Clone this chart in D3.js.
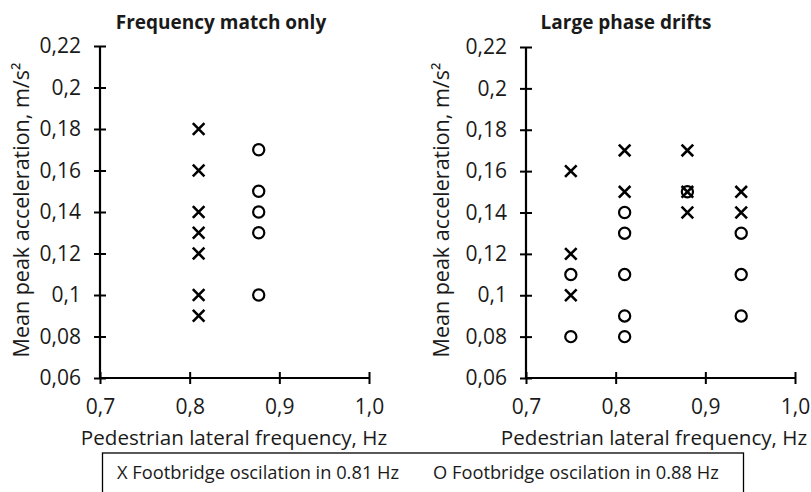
<!DOCTYPE html>
<html>
<head>
<meta charset="utf-8">
<script src="https://cdn.jsdelivr.net/npm/d3@7"></script>
<style>
  body { margin: 0; background: #fff; }
  svg text { font-family: "Open Sans", "Noto Sans", sans-serif; fill: #1a1a1a; }
</style>
</head>
<body>
<svg id="chart" width="811" height="492"></svg>
<script>
// ---- data ----
const panelTitles = ["Frequency match only", "Large phase drifts"];
const xTicks = [0.7, 0.8, 0.9, 1.0];
const yTicks = [0.06, 0.08, 0.10, 0.12, 0.14, 0.16, 0.18, 0.20, 0.22];
const xLabel = "Pedestrian lateral frequency, Hz";
const yLabel = "Mean peak acceleration, m/s²";
const legendLabels = ["X Footbridge oscilation in 0.81 Hz", "O Footbridge oscilation in 0.88 Hz"];

// Panel 1: Frequency match only
const p1CrossX = [0.81, 0.81, 0.81, 0.81, 0.81, 0.81, 0.81];
const p1CrossY = [0.18, 0.16, 0.14, 0.13, 0.12, 0.10, 0.09];
const p1CircleX = [0.877, 0.877, 0.877, 0.877, 0.877];
const p1CircleY = [0.17, 0.15, 0.14, 0.13, 0.10];

// Panel 2: Large phase drifts
const p2CrossX = [0.75, 0.75, 0.75, 0.81, 0.81, 0.88, 0.88, 0.88, 0.94, 0.94];
const p2CrossY = [0.16, 0.12, 0.10, 0.17, 0.15, 0.17, 0.15, 0.14, 0.15, 0.14];
const p2CircleX = [0.75, 0.75, 0.81, 0.81, 0.81, 0.81, 0.81, 0.88, 0.94, 0.94, 0.94];
const p2CircleY = [0.11, 0.08, 0.14, 0.13, 0.11, 0.09, 0.08, 0.15, 0.13, 0.11, 0.09];

const panels = [
  { title: panelTitles[0], cx: p1CrossX, cy: p1CrossY, ox: p1CircleX, oy: p1CircleY,
    left: 100, right: 369, top: 46, bottom: 378, titleX: 221, xTitleX: 234, yTitleX: 29 },
  { title: panelTitles[1], cx: p2CrossX, cy: p2CrossY, ox: p2CircleX, oy: p2CircleY,
    left: 526, right: 795, top: 47, bottom: 378, titleX: 626, xTitleX: 654, yTitleX: 449 }
];

const svg = d3.select("#chart");
const fmtX = d => d3.format(".1f")(d).replace(".", ",");
const fmtY = d => {
  let s = d3.format(".2f")(d);
  s = s.replace(/0$/, "");
  return s.replace(".", ",");
};

panels.forEach(p => {
  const x = d3.scaleLinear().domain([0.7, 1.0]).range([p.left, p.right]);
  const y = d3.scaleLinear().domain([0.06, 0.22]).range([p.bottom, p.top]);
  const g = svg.append("g");

  // y axis
  const yAxis = g.append("g").attr("transform", `translate(${p.left},0)`)
    .call(d3.axisLeft(y).tickValues(yTicks).tickFormat(fmtY).tickSize(6).tickPadding(13));
  yAxis.select(".domain").attr("d", `M0,${p.top}V${p.bottom}`).attr("stroke", "#000").attr("stroke-width", 2.2);
  yAxis.selectAll(".tick line").attr("x1", 6).attr("x2", -6).attr("stroke", "#000").attr("stroke-width", 2);
  yAxis.selectAll(".tick text").style("font-size", "21px").attr("fill", "#1a1a1a")
    .style("font-family", "'Open Sans', sans-serif");

  // x axis
  const xAxis = g.append("g").attr("transform", `translate(0,${p.bottom})`)
    .call(d3.axisBottom(x).tickValues(xTicks).tickFormat(fmtX).tickSize(6).tickPadding(15));
  xAxis.select(".domain").attr("d", `M${p.left},0H${p.right}`).attr("stroke", "#000").attr("stroke-width", 2.2);
  xAxis.selectAll(".tick line").attr("y1", -6).attr("y2", 6).attr("stroke", "#000").attr("stroke-width", 2);
  xAxis.selectAll(".tick text").style("font-size", "21px").attr("fill", "#1a1a1a")
    .style("font-family", "'Open Sans', sans-serif");

  // titles
  g.append("text").attr("x", p.titleX).attr("y", 29).attr("text-anchor", "middle")
    .style("font-size", "19px").style("font-weight", "bold").text(p.title);
  g.append("text").attr("x", p.xTitleX)
    .attr("y", 445).attr("text-anchor", "middle").style("font-size", "20.6px").text(xLabel);
  g.append("text").attr("transform", `translate(${p.yTitleX},210) rotate(-90)`)
    .attr("text-anchor", "middle").style("font-size", "21.5px").text(yLabel);

  // markers
  const crosses = d3.zip(p.cx, p.cy);
  const circles = d3.zip(p.ox, p.oy);
  const s = 5.8;
  g.selectAll("path.cross").data(crosses).enter().append("path")
    .attr("class", "cross")
    .attr("d", d => `M${x(d[0]) - s},${y(d[1]) - s}L${x(d[0]) + s},${y(d[1]) + s}M${x(d[0]) - s},${y(d[1]) + s}L${x(d[0]) + s},${y(d[1]) - s}`)
    .attr("stroke", "#000").attr("stroke-width", 2.6).attr("fill", "none");
  g.selectAll("circle.o").data(circles).enter().append("circle")
    .attr("class", "o")
    .attr("cx", d => x(d[0])).attr("cy", d => y(d[1])).attr("r", 5.6)
    .attr("stroke", "#000").attr("stroke-width", 2.2).attr("fill", "none");
});

// legend
svg.append("rect").attr("x", 102.5).attr("y", 453).attr("width", 641).attr("height", 60)
  .attr("fill", "none").attr("stroke", "#000").attr("stroke-width", 1.3);
svg.append("text").attr("x", 117).attr("y", 479).style("font-size", "18.3px").text(legendLabels[0]);
svg.append("text").attr("x", 433).attr("y", 479).style("font-size", "18.3px").text(legendLabels[1]);
</script>
</body>
</html>
